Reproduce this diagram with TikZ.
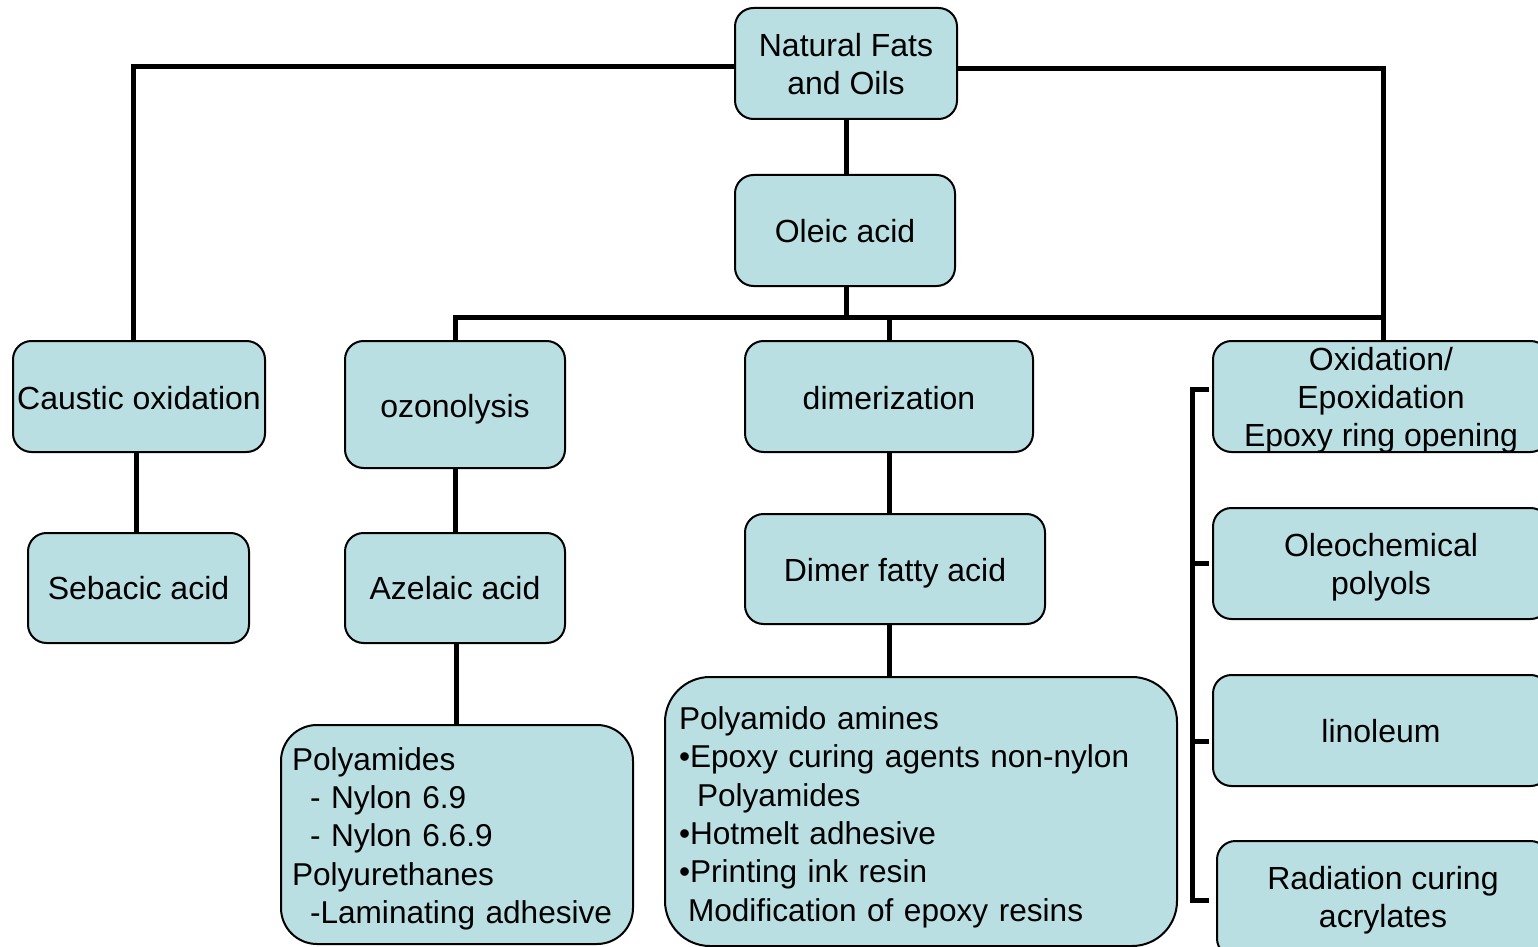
\documentclass[tikz,border=0pt]{standalone}
\usepackage{fontspec}
\usepackage{calc}
\setmainfont{Liberation Sans}
\definecolor{boxfill}{RGB}{185,223,227}
\newcommand\boxfont{\fontsize{16}{19.15}\selectfont}
\newcommand\listfont{\fontsize{15.8}{19.15}\selectfont}
% lower the text by #1 inside its box, keeping the box's size
\newcommand\lowc[2]{\raisebox{-#1}[\height][\depth]{\begin{tabular}{@{}c@{}}#2\end{tabular}}}
\newcommand\lowcs[2]{\raisebox{-#1}[\height-1pt][\depth-1pt]{\begin{tabular}{@{}c@{}}#2\end{tabular}}}
\newcommand\lowl[2]{\raisebox{-#1}[\height][\depth]{\begin{tabular}{@{}l@{}}#2\end{tabular}}}
\begin{document}
\begin{tikzpicture}[x=0.5pt,y=-0.5pt,
  box/.style={draw=black, line width=1pt, fill=boxfill, inner sep=0pt, align=center, font=\boxfont, rounded corners=9.25pt},
  listbox/.style={box, font=\listfont, align=left},
  conn/.style={draw=black, line width=2.5pt}]
\useasboundingbox (0,0) rectangle (1538,947);
\clip (0,0) rectangle (1538,947);
\fill[white] (0,0) rectangle (1538,947);

\node[box, minimum width=111pt, minimum height=55.5pt] (nat) at (846,63.5) {\lowc{2pt}{Natural Fats\\and Oils}};
\node[box, minimum width=110pt, minimum height=55.5pt] (oleic) at (845,230.5) {\lowc{2.3pt}{Oleic acid}};
\node[box, minimum width=126pt, minimum height=55.5pt] (caus) at (139,396.5) {\lowc{2.9pt}{Caustic oxidation}};
\node[box, minimum width=110pt, minimum height=63.5pt] (ozon) at (455,404.5) {\lowc{2.9pt}{ozonolysis}};
\node[box, minimum width=144pt, minimum height=55.5pt] (dim) at (889,396.5) {\lowc{2.6pt}{dimerization}};
\node[box, minimum width=168pt, minimum height=55.5pt] (oxi) at (1381,396.5) {\lowcs{2.2pt}{Oxidation/\\Epoxidation\\Epoxy ring opening}};
\node[box, minimum width=110.5pt, minimum height=55pt] (seb) at (138.5,588) {\lowc{1.8pt}{Sebacic acid}};
\node[box, minimum width=110pt, minimum height=55pt] (aze) at (455,588) {\lowc{1.8pt}{Azelaic acid}};
\node[box, minimum width=150pt, minimum height=55pt] (dfa) at (895,569) {\lowc{2.2pt}{Dimer fatty acid}};
\node[listbox, rounded corners=18pt, minimum height=109.5pt, inner xsep=5.5pt, text width=165pt] (pa) at (457,834.5)
  {\lowl{2.4pt}{Polyamides\\\hspace*{9pt}- Nylon 6.9\\\hspace*{9pt}- Nylon 6.6.9\\Polyurethanes\\\hspace*{9pt}-Laminating adhesive}};
\node[listbox, rounded corners=22.5pt, minimum height=134.5pt, inner xsep=7pt, text width=242pt] (pam) at (921,811.5)
  {\lowl{3.1pt}{Polyamido amines\\•Epoxy curing agents non-nylon\\\hspace*{9pt}Polyamides\\•Hotmelt adhesive\\•Printing ink resin\\\hspace*{4.5pt}Modification of epoxy resins}};
\node[box, minimum width=168pt, minimum height=55.5pt] (ole) at (1381,563.5) {\lowc{2pt}{Oleochemical\\polyols}};
\node[box, minimum width=168pt, minimum height=55.5pt] (lin) at (1381,730.5) {\lowc{2.2pt}{linoleum}};
\node[box, minimum width=166pt, minimum height=58pt] (rad) at (1383,899) {\lowc{0.9pt}{Radiation curing\\acrylates}};

\coordinate (bus) at (846,317);
\draw[conn] ([yshift=-1.75pt]nat.west) -| ([xshift=-3pt]caus.north);
\draw[conn] ([yshift=-2.75pt]nat.east) -| ([xshift=1pt]oxi.north);
\draw[conn] (nat.south) -- (nat.south |- oleic.north);
\draw[conn] (oleic.south -| bus) -- (bus);
\draw[conn] (ozon.north) |- (bus) -| ([xshift=1pt]oxi.north);
\draw[conn] (dim.north) -- (dim.north |- bus);
\draw[conn] ([xshift=-1.5pt]caus.south) -- ([xshift=-1.5pt]caus.south |- seb.north);
\draw[conn] (ozon.south) -- (aze.north);
\draw[conn] ([xshift=0.5pt]aze.south) -- ([xshift=0.5pt]aze.south |- pa.north);
\draw[conn] (dim.south) -- (dim.south |- dfa.north);
\draw[conn] (dim.south |- dfa.south) -- (dim.south |- pam.north);

\draw[conn] ([xshift=-1.5pt,yshift=3.75pt]oxi.west) -- ++(-8.5pt,0) |- ([xshift=-3.5pt,yshift=-0.5pt]rad.west);
\draw[conn] ([xshift=-1.5pt]ole.west) -- ++(-8.5pt,0);
\draw[conn] ([xshift=-1.5pt,yshift=-5.25pt]lin.west) -- ++(-8.5pt,0);
\end{tikzpicture}
\end{document}
